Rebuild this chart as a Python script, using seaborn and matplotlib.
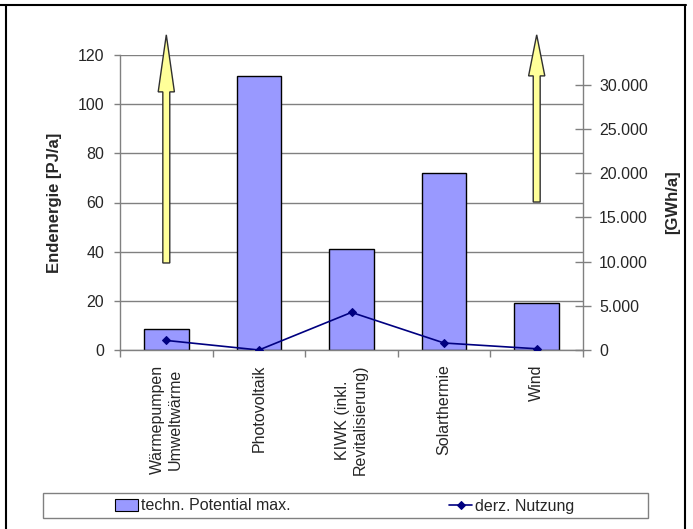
import numpy as np
import pandas as pd
import matplotlib
matplotlib.use("Agg")
import matplotlib.pyplot as plt
import matplotlib.patches as mpatches
from matplotlib.lines import Line2D
from matplotlib.ticker import FuncFormatter
import seaborn as sns

# --- data -------------------------------------------------------------
categories = ["Wärmepumpen\nUmweltwärme", "Photovoltaik",
              "KIWK (inkl.\nRevitalisierung)", "Solarthermie", "Wind"]
potential_pj = [8.4, 111.3, 41.0, 71.9, 19.0]          # techn. Potential max. [PJ/a]
usage_gwh = [1080, 0, 4250, 790, 140]                   # derz. Nutzung [GWh/a]
left_ticks = [0, 20, 40, 60, 80, 100, 120]
right_ticks = [0, 5000, 10000, 15000, 20000, 25000, 30000]

# open-ended potentials (yellow arrows)
arrow_categories = ["Wärmepumpen\nUmweltwärme", "Wind"]
arrow_start_pj = [35.4, 60.2]
arrow_tip_pj = [128.2, 128.2]
arrow_head_pj = [23.2, 16.7]

GWH_PER_PJ = 1e6 / 3600.0

BAR_COLOR = "#9999FF"
LINE_COLOR = "#000080"
ARROW_COLOR = "#FFFF99"
GREY = "#808080"
FS = 11.5

sns.set_theme(style="white")
plt.rcParams["font.family"] = ["Liberation Sans", "DejaVu Sans"]
plt.rcParams["font.size"] = FS

W, H = 693, 529
fig = plt.figure(figsize=(W / 100, H / 100), dpi=100)
ax = fig.add_axes([120 / W, 1 - 350 / H, 463 / W, 295 / H])

df = pd.DataFrame({"Kategorie": categories,
                   "Potential": potential_pj,
                   "Nutzung": usage_gwh})

sns.barplot(data=df, x="Kategorie", y="Potential", color=BAR_COLOR,
            saturation=1, edgecolor="black", linewidth=1, width=0.48, ax=ax)

ax.set_ylim(0, 120)
ax.set_xlim(-0.5, len(categories) - 0.5)
ax.set_yticks(left_ticks)
ax.yaxis.grid(True, color=GREY, linewidth=1)
ax.xaxis.grid(False)
ax.set_axisbelow(True)

# category separators as major ticks, labels on minor ticks
n = len(categories)
ax.set_xticks(np.arange(n + 1) - 0.5)
ax.set_xticklabels([])
ax.set_xticks(np.arange(n), minor=True)
ax.set_xticklabels(categories, minor=True, rotation=90, ha="center",
                   va="top", multialignment="center", fontsize=FS)
ax.tick_params(axis="x", which="major", length=5, width=1, color=GREY,
               direction="out", bottom=True)
ax.tick_params(axis="x", which="minor", length=0, pad=10.5, bottom=True)
ax.tick_params(axis="y", length=4.5, width=1, color=GREY, direction="out",
               pad=7, left=True, labelsize=FS)
ax.set_xlabel("")
ax.set_ylabel("Endenergie [PJ/a]", fontweight="bold", fontsize=12)
ax.yaxis.set_label_coords((62 - 120) / 463, 0.5)

for side in ("top", "right"):
    ax.spines[side].set_visible(False)
for side in ("left", "bottom"):
    ax.spines[side].set_color(GREY)
    ax.spines[side].set_linewidth(1)

# yellow arrows for open-ended potential
for cat, y0, y1, hl in zip(arrow_categories, arrow_start_pj, arrow_tip_pj, arrow_head_pj):
    xpos = categories.index(cat)
    arr = mpatches.FancyArrow(xpos, y0, 0, y1 - y0, width=0.075,
                              head_width=0.175, head_length=hl,
                              length_includes_head=True, facecolor=ARROW_COLOR,
                              edgecolor="#303030", linewidth=1, clip_on=False,
                              zorder=4)
    ax.add_patch(arr)

# secondary axis in GWh/a
ax2 = ax.twinx()
sns.lineplot(data=df, x="Kategorie", y="Nutzung", ax=ax2, color=LINE_COLOR,
             marker="D", markersize=4, markeredgecolor=LINE_COLOR,
             linewidth=1.2, sort=False, legend=False)
ax2.set_ylim(0, 120 * GWH_PER_PJ)
ax2.set_yticks(right_ticks)
ax2.yaxis.set_major_formatter(FuncFormatter(lambda v, p: f"{v:,.0f}".replace(",", ".")))
ax2.tick_params(axis="y", direction="inout", length=11, width=1, color=GREY,
                pad=6, right=True, labelsize=FS)
ax2.grid(False)
ax2.set_xlim(-0.5, n - 0.5)
ax2.set_xlabel("")
ax2.set_ylabel("[GWh/a]", fontweight="bold", fontsize=12, rotation=90)
ax2.yaxis.set_label_coords((665 - 120) / 463, 0.5)
for side in ("top", "left", "bottom"):
    ax2.spines[side].set_visible(False)
ax2.spines["right"].set_color(GREY)
ax2.spines["right"].set_linewidth(1)

# legend box across the bottom
fig.add_artist(mpatches.Rectangle((43 / W, 1 - 518 / H), 605 / W, 25 / H,
                                  transform=fig.transFigure, facecolor="white",
                                  edgecolor=GREY, linewidth=1, zorder=1))
bar_handle = mpatches.Patch(facecolor=BAR_COLOR, edgecolor="black", linewidth=0.8)
line_handle = ax2.lines[0]
leg_kw = dict(loc="center left", frameon=False, borderpad=0, borderaxespad=0,
              fontsize=FS, handlelength=1.45, handleheight=0.75,
              handletextpad=0.2)
fig.legend([bar_handle], ["techn. Potential max."],
           bbox_to_anchor=(115 / W, 1 - 506 / H), **leg_kw)
fig.legend([line_handle], ["derz. Nutzung"],
           bbox_to_anchor=(449 / W, 1 - 506 / H), **leg_kw)

# outer frame lines
frame_kw = dict(transform=fig.transFigure, color="black", linewidth=1.5)
fig.add_artist(Line2D([0, 685.5 / W], [1 - 4.5 / H, 1 - 4.5 / H], **frame_kw))
fig.add_artist(Line2D([6 / W, 6 / W], [0, 1 - 4.5 / H], **frame_kw))
fig.add_artist(Line2D([684.5 / W, 684.5 / W], [0, 1 - 4.5 / H], **frame_kw))

fig.savefig("out.png", dpi=100)
